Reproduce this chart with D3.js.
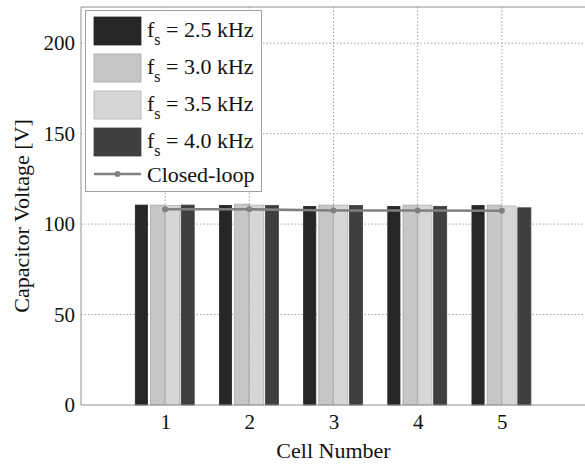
<!DOCTYPE html>
<html><head><meta charset="utf-8">
<script src="https://cdn.jsdelivr.net/npm/d3@7/dist/d3.min.js"></script>
<style>
body{margin:0;background:#fff}
svg text{font-family:"Liberation Serif","Times New Roman",Times,serif !important;fill:#111}
</style>
</head><body>
<svg id="c" width="585" height="464"></svg>
<script>
const cells = [1, 2, 3, 4, 5];
const seriesNames = ["2.5 kHz", "3.0 kHz", "3.5 kHz", "4.0 kHz"];
const fs25 = [110.5, 110.3, 109.8, 109.8, 110.3];
const fs30 = [110.5, 111.0, 110.5, 110.5, 110.5];
const fs35 = [110.3, 110.5, 110.5, 110.5, 110.0];
const fs40 = [110.5, 110.3, 110.3, 109.8, 109.0];
const closedLoop = [108.2, 108.2, 107.5, 107.5, 107.4];
const yTicks = [0, 50, 100, 150, 200];
const xTicks = [1, 2, 3, 4, 5];

const series = [fs25, fs30, fs35, fs40];
const fills = ["#262626", "#c6c6c6", "#d6d6d6", "#3f3f3f"];
const strokes = ["#262626", "#a8a8a8", "#b4b4b4", "#3f3f3f"];
// bar layout (offset of bar left edge and width, in x units)
const barLeft = [-0.355, -0.175, 0.0, 0.19];
const barW = [0.145, 0.17, 0.17, 0.155];

const svg = d3.select("#c");
const L = 81, R = 586, T = 7, B = 405;
const x = d3.scaleLinear().domain([0, 6]).range([L, R]);
const y = d3.scaleLinear().domain([0, 220]).range([B, T]);

// grid
const g = svg.append("g");
g.selectAll(".gy").data(yTicks.filter(d => d > 0)).enter().append("line")
  .attr("x1", L).attr("x2", R).attr("y1", d => y(d)).attr("y2", d => y(d))
  .attr("stroke", "#a0a0a0").attr("stroke-width", 1).attr("stroke-dasharray", "1.5,2");
g.selectAll(".gx").data(xTicks).enter().append("line")
  .attr("x1", d => x(d)).attr("x2", d => x(d)).attr("y1", T).attr("y2", B)
  .attr("stroke", "#a0a0a0").attr("stroke-width", 1).attr("stroke-dasharray", "1.5,2");

// bars
series.forEach((s, i) => {
  svg.append("g").selectAll("rect").data(s).enter().append("rect")
    .attr("x", (d, j) => x(cells[j] + barLeft[i]))
    .attr("width", x(barW[i]) - x(0))
    .attr("y", d => y(d))
    .attr("height", d => y(0) - y(d))
    .attr("fill", fills[i]).attr("stroke", strokes[i]).attr("stroke-width", 0.8);
});
// gridlines visible over light bars (as in reference)
svg.append("g").selectAll("line").data(xTicks).enter().append("line")
  .attr("x1", d => x(d)).attr("x2", d => x(d)).attr("y1", d => y(fs30[d-1])).attr("y2", B)
  .attr("stroke", "#a8a8a8").attr("stroke-width", 1).attr("stroke-dasharray", "1.5,2");

// closed loop line
const line = d3.line().x((d, j) => x(cells[j])).y(d => y(d));
svg.append("path").datum(closedLoop).attr("d", line)
  .attr("fill", "none").attr("stroke", "#808080").attr("stroke-width", 2.6);
svg.append("g").selectAll("circle").data(closedLoop).enter().append("circle")
  .attr("cx", (d, j) => x(cells[j])).attr("cy", d => y(d)).attr("r", 3)
  .attr("fill", "#808080");

// frame
svg.append("line").attr("x1", L).attr("x2", R).attr("y1", T).attr("y2", T).attr("stroke", "#909090");
svg.append("line").attr("x1", L).attr("x2", R).attr("y1", B).attr("y2", B).attr("stroke", "#909090");
svg.append("line").attr("x1", L).attr("x2", L).attr("y1", T).attr("y2", B).attr("stroke", "#909090");

// axes labels
const yAxis = d3.axisLeft(y).tickValues(yTicks).tickSize(0).tickPadding(6).tickFormat(d3.format("d"));
const ya = svg.append("g").attr("transform", `translate(${L},0)`).call(yAxis);
ya.select(".domain").remove();
ya.attr("font-family", null);
ya.selectAll("text").attr("font-size", 21);
const xAxis = d3.axisBottom(x).tickValues(xTicks).tickSize(0).tickPadding(9).tickFormat(d3.format("d"));
const xa = svg.append("g").attr("transform", `translate(0,${B})`).call(xAxis);
xa.select(".domain").remove();
xa.attr("font-family", null);
xa.selectAll("text").attr("font-size", 21);

svg.append("text").attr("x", x(3)).attr("y", 458).attr("text-anchor", "middle")
  .attr("font-size", 22).text("Cell Number");
svg.append("text").attr("transform", "translate(29,216) rotate(-90)").attr("text-anchor", "middle")
  .attr("font-size", 22).text("Capacitor Voltage [V]");

// legend
const lg = svg.append("g");
lg.append("rect").attr("x", 85.5).attr("y", 10.5).attr("width", 176).attr("height", 181)
  .attr("fill", "#fff").attr("stroke", "#a0a0a0").attr("stroke-width", 1);
seriesNames.forEach((n, i) => {
  const cy = 31 + i * 37;
  lg.append("rect").attr("x", 94).attr("y", cy - 14).attr("width", 47).attr("height", 28)
    .attr("fill", fills[i]).attr("stroke", strokes[i]).attr("stroke-width", 0.8);
  const t = lg.append("text").attr("x", 147).attr("y", cy + 6).attr("font-size", 22);
  t.append("tspan").text("f");
  t.append("tspan").attr("font-size", 16).attr("dy", 8).text("s");
  t.append("tspan").attr("dy", -8).text(" = " + n);
});
lg.append("line").attr("x1", 94).attr("x2", 141).attr("y1", 174).attr("y2", 174)
  .attr("stroke", "#808080").attr("stroke-width", 2.6);
lg.append("circle").attr("cx", 117.5).attr("cy", 174).attr("r", 3).attr("fill", "#808080");
lg.append("text").attr("x", 147).attr("y", 182).attr("font-size", 22).text("Closed-loop");
</script>
</body></html>
